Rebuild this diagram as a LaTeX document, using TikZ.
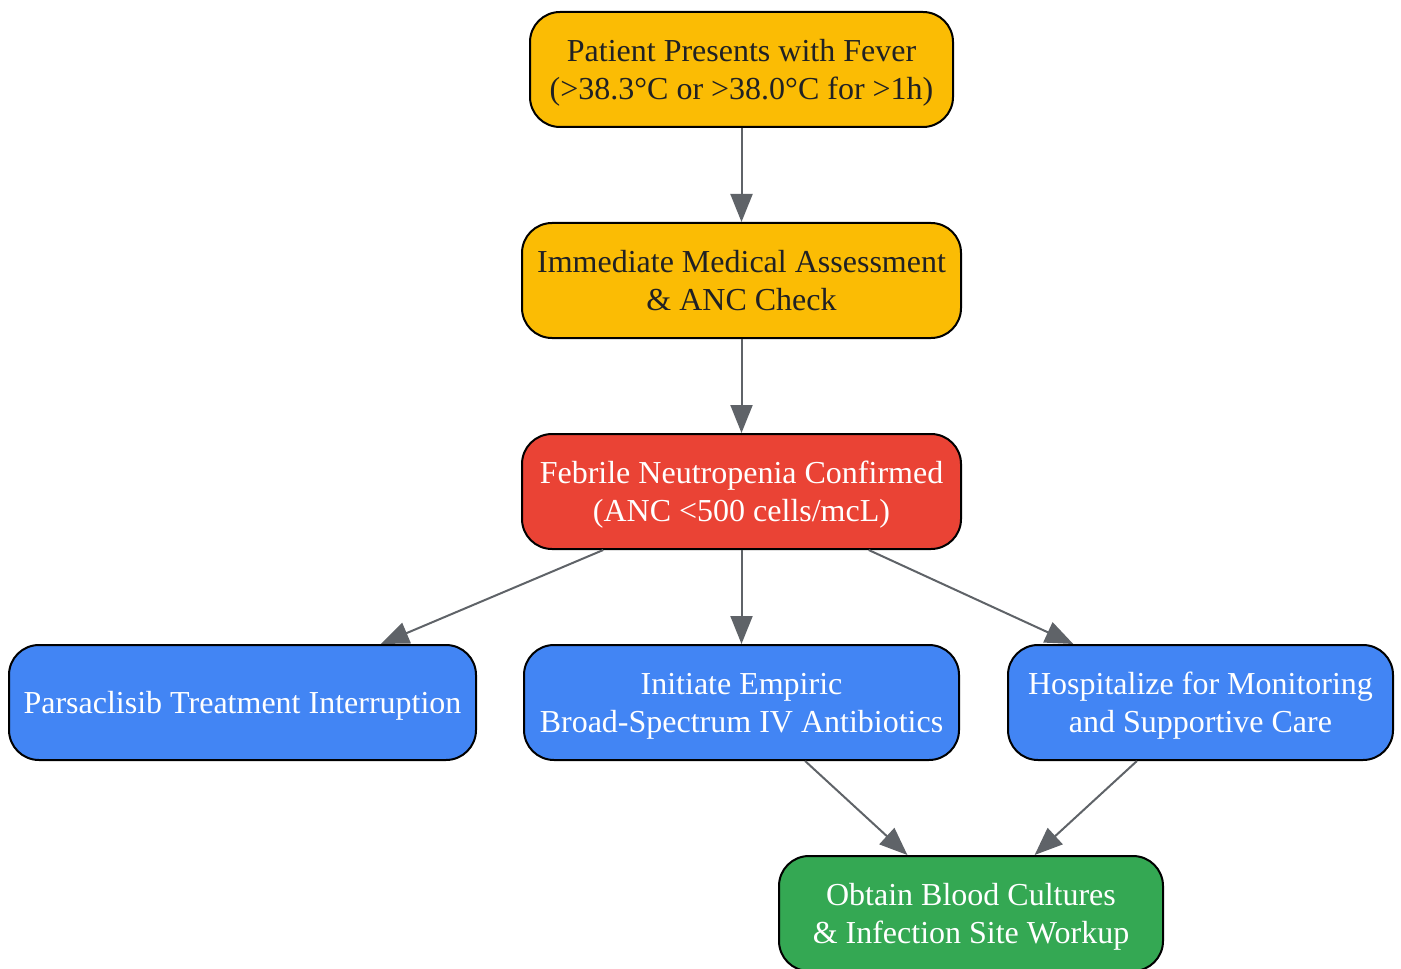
\documentclass[tikz,border=0pt]{standalone}
\usepackage{fontspec}
\setmainfont{Liberation Serif}
\usetikzlibrary{arrows.meta}
\definecolor{gyellow}{HTML}{FBBC04}
\definecolor{gred}{HTML}{EA4335}
\definecolor{gblue}{HTML}{4285F4}
\definecolor{ggreen}{HTML}{34A853}
\definecolor{edgegray}{HTML}{5F6368}
\definecolor{darktext}{HTML}{202124}

\begin{document}
\begin{tikzpicture}[
    x=0.5pt, y=-0.5pt,
    every node/.style={rectangle, rounded corners=15pt, draw=black, line width=1pt, minimum height=57.5pt, inner sep=0pt, text depth=0pt, align=center, font=\fontsize{16}{19}\selectfont},
    warn/.style={fill=gyellow, text=darktext},
    alert/.style={fill=gred, text=white},
    act/.style={fill=gblue, text=white},
    diag/.style={fill=ggreen, text=white},
    flow/.style={draw=edgegray, line width=1pt, -{Triangle[length=14pt, width=11pt]}}
]
\useasboundingbox (0,0) rectangle (1401,968);

% ----- level 0 -----
\node[warn, minimum width=211.5pt] (fever) at (741.5,69.5) {Patient Presents with Fever\\(>38.3°C or >38.0°C for >1h)};

% ----- level 1 -----
\node[warn, minimum width=219.5pt] (assess) at (741.5,280.5) {Immediate Medical Assessment\\\& ANC Check};

% ----- level 2 -----
\node[alert, minimum width=219.5pt] (fn) at (741.5,491.5) {Febrile Neutropenia Confirmed\\(ANC <500 cells/mcL)};

% ----- level 3 -----
\node[act, minimum width=233.5pt] (interrupt) at (242.5,702.5) {Parsaclisib Treatment Interruption};
\node[act, minimum width=217.5pt] (abx) at (741.5,702.5) {Initiate Empiric\\Broad-Spectrum IV Antibiotics};
\node[act, minimum width=192.5pt] (hosp) at (1200.5,702.5) {Hospitalize for Monitoring\\and Supportive Care};

% ----- level 4 -----
\node[diag, minimum width=192pt] (cultures) at (971,913.5) {Obtain Blood Cultures\\\& Infection Site Workup};

% ----- edges -----
\draw[flow] (fever) -- (assess);
\draw[flow] (assess) -- (fn);

\draw[flow] (fn) -- (interrupt);
\draw[flow] (fn) -- (abx);
\draw[flow] (fn) -- (hosp);

\draw[flow] (abx) -- (cultures);
\draw[flow] (hosp) -- (cultures);

\end{tikzpicture}
\end{document}
